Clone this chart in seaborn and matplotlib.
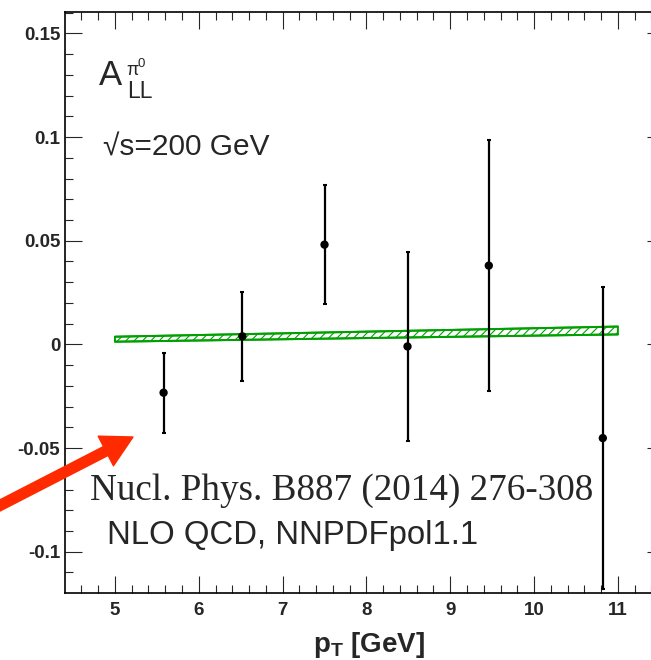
import numpy as np
import pandas as pd
import matplotlib
matplotlib.use('Agg')
import matplotlib.pyplot as plt
import seaborn as sns
from matplotlib.ticker import MultipleLocator, FuncFormatter

# measured A_LL points
pt = [5.58, 6.52, 7.50, 8.49, 9.46, 10.82]
a_ll = [-0.0233, 0.0039, 0.0481, -0.0010, 0.0380, -0.0452]
a_err = [0.0193, 0.0214, 0.0287, 0.0456, 0.0607, 0.0727]

# NLO QCD band (NNPDFpol1.1)
band_pt = [5.0, 11.0]
band_lo = [0.0013, 0.0048]
band_hi = [0.0037, 0.0086]

W, H = 651, 660

sns.set_style('ticks')
plt.rcParams['font.family'] = ['Liberation Sans', 'DejaVu Sans']
plt.rcParams['mathtext.fontset'] = 'custom'
plt.rcParams['mathtext.rm'] = 'Liberation Sans'
plt.rcParams['mathtext.bf'] = 'Liberation Sans:bold'
plt.rcParams['mathtext.it'] = 'Liberation Sans:italic'
plt.rcParams['hatch.linewidth'] = 0.8


def px(x, y):
    return x / W, 1 - y / H


fig = plt.figure(figsize=(W / 100, H / 100), dpi=100)
left, right, top, bottom = 65, 664, 12, 593
ax = fig.add_axes([left / W, 1 - bottom / H, (right - left) / W, (bottom - top) / H])

green = '#00a000'
ax.fill_between(band_pt, band_lo, band_hi, facecolor='white', edgecolor=green,
                hatch='////', linewidth=1.4, zorder=1)
ax.plot(band_pt, band_lo, color=green, lw=1.4, zorder=1)
ax.plot(band_pt, band_hi, color=green, lw=1.4, zorder=1)

ax.errorbar(pt, a_ll, yerr=a_err, fmt='none', ecolor='black', elinewidth=1.6,
            capsize=1.5, capthick=1.5, zorder=2)
sns.scatterplot(x=pt, y=a_ll, color='black', s=36, edgecolor='none', ax=ax, zorder=3)

ax.set_xlim(4.404, 11.55)
ax.set_ylim(-0.1199, 0.1603)

ax.xaxis.set_major_locator(MultipleLocator(1))
ax.xaxis.set_minor_locator(MultipleLocator(0.2))
ax.yaxis.set_major_locator(MultipleLocator(0.05))
ax.yaxis.set_minor_locator(MultipleLocator(0.01))
ax.yaxis.set_major_formatter(FuncFormatter(lambda v, p: '%g' % round(v, 3)))
ax.xaxis.set_major_formatter(FuncFormatter(lambda v, p: '%g' % round(v, 3)))
ax.tick_params(which='both', direction='in', top=True, right=True, width=0.8)
ax.tick_params(which='major', length=12)
ax.tick_params(which='minor', length=6)
ax.tick_params(axis='y', pad=3.5)
ax.tick_params(axis='x', pad=6.5)
for lab in ax.get_xticklabels() + ax.get_yticklabels():
    lab.set_fontweight('bold')
    lab.set_fontsize(13.5)
for s in ax.spines.values():
    s.set_linewidth(1.2)
    s.set_color('black')

ax.set_xlabel(r'$\mathbf{p}_{\mathbf{T}}$ [GeV]', fontsize=20, fontweight='bold')
ax.xaxis.label.set_va('baseline')
ax.xaxis.set_label_coords(0.507, -0.1015)

# annotations
fig.text(*px(99, 85), 'A', fontsize=25, va='baseline')
fig.text(*px(126, 75), 'π', fontsize=13, va='baseline')
fig.text(*px(137, 67), '0', fontsize=9.5, va='baseline')
fig.text(*px(127, 98), 'LL', fontsize=16.5, va='baseline')
fig.text(*px(103, 156), '√s=200 GeV', fontsize=21.5, va='baseline')
fig.text(*px(90, 500), 'Nucl. Phys. B887 (2014) 276-308', fontsize=26.7, va='baseline',
         family='Liberation Serif')
fig.text(*px(107, 544), 'NLO QCD, NNPDFpol1.1', fontsize=23.7, va='baseline')

ax.annotate('', xy=(133, H - 437), xytext=(-5, H - 508), xycoords='figure pixels',
            textcoords='figure pixels', annotation_clip=False,
            arrowprops=dict(arrowstyle='simple,head_length=1.1,head_width=1.2,tail_width=0.36',
                            color='#ff2a00', mutation_scale=20, shrinkA=0, shrinkB=0))

fig.savefig('out.png', dpi=100)
